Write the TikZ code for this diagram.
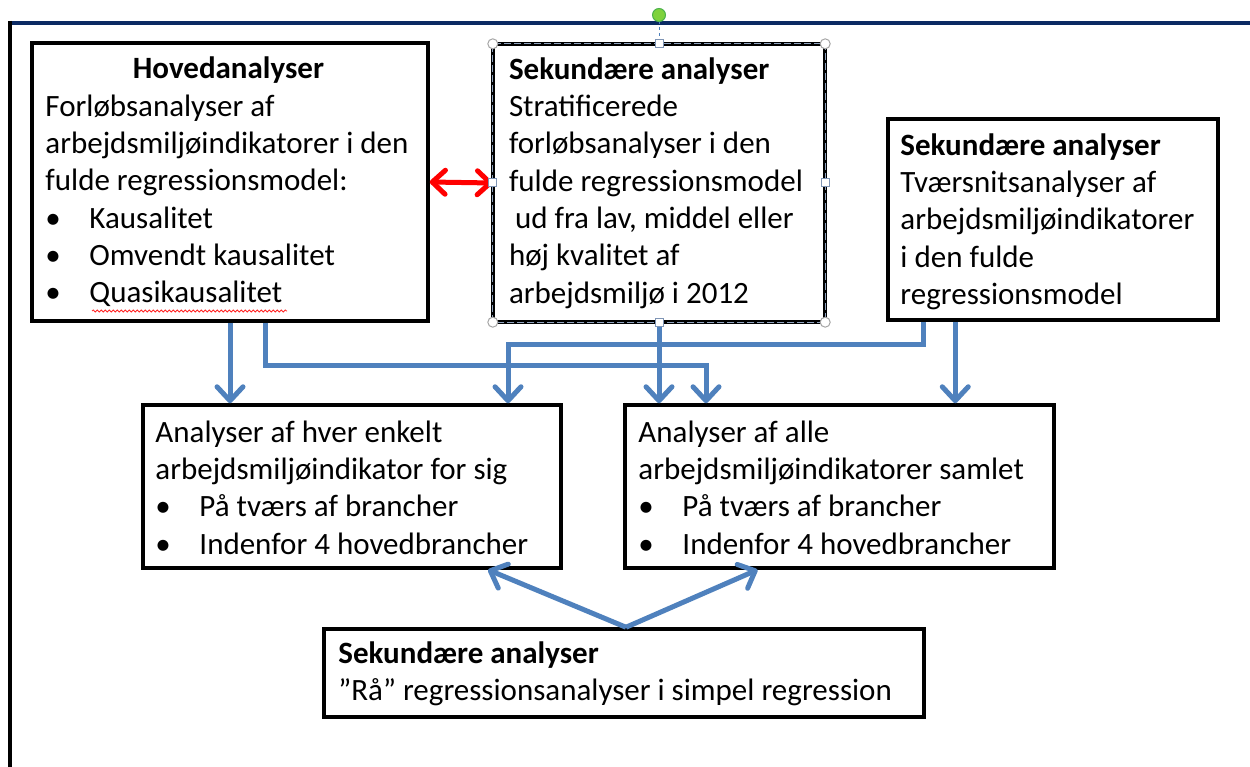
\documentclass[tikz,border=0pt]{standalone}
\usepackage{fontspec}
\setmainfont{Carlito}
\usetikzlibrary{arrows.meta,calc,decorations.pathmorphing}
\definecolor{conn}{HTML}{4F81BD}
\definecolor{navy}{HTML}{0B2A63}
\definecolor{selgray}{HTML}{8EA2BE}
\definecolor{handle}{HTML}{7F95B5}
\definecolor{rotgreen}{HTML}{7ED23C}
\begin{document}
\begin{tikzpicture}[x=1pt,y=-1pt,
  boxshape/.style={draw, line width=3.5pt, inner sep=0pt},
  plainshape/.style={draw=none, inner sep=0pt},
  txt/.style={anchor=west, align=left, inner sep=0pt, font=\fontsize{31}{37.3}\selectfont},
  flow/.style={draw=conn, line width=5pt, -{Straight Barb[length=14pt,width=26pt,round]}},
  redflow/.style={draw=red, line width=5pt, {Straight Barb[length=13pt,width=24pt,round]}-{Straight Barb[length=13pt,width=24pt,round]}},
  corner/.style={circle, draw=gray!70, fill=white, line width=1pt, minimum size=10pt, inner sep=0pt},
  mid/.style={rectangle, draw=handle, fill=white, line width=1pt, minimum size=8pt, inner sep=0pt}
]
\useasboundingbox (0,0) rectangle (1250,767);
\newcommand{\bul}{\makebox[44pt][l]{•}}

% frame
\draw[navy, line width=4pt] (10,23) -- (1250,23);
\draw[black, line width=4pt] (10,21) -- (10,767);

% boxes
\node[boxshape, minimum width=396pt, minimum height=278pt] (A) at (230,182) {};
\node[plainshape, minimum width=332pt, minimum height=278pt] (B) at (659,183) {};
\node[boxshape, minimum width=330pt, minimum height=201pt] (C) at (1053,219.5) {};
\node[boxshape, minimum width=418pt, minimum height=163pt] (D) at (352,486.5) {};
\node[boxshape, minimum width=429pt, minimum height=163pt] (E) at (839.5,486.5) {};
\node[boxshape, minimum width=600pt, minimum height=88pt] (F) at (624,673) {};

% box B selected-style border
\draw[black, line width=3.5pt] (B.south west) rectangle (B.north east);
\draw[selgray, line width=1.2pt, dash pattern=on 7pt off 3pt] (B.south west) rectangle (B.north east);

% texts
\node[txt] (At) at ($(A.west)+(15,0)$) {\makebox[366pt]{\bfseries Hovedanalyser}\\
Forløbsanalyser af\\
arbejdsmiljøindikatorer i den\\
fulde regressionsmodel:\\
\bul Kausalitet\\
\bul Omvendt kausalitet\\
\bul Quasikausalitet};
\node[txt] (Bt) at ($(B.west)+(16,0)$) {\textbf{Sekundære analyser}\\
Stratificerede\\
forløbsanalyser i den\\
fulde regressionsmodel\\
\hspace*{6pt}ud fra lav, middel eller\\
høj kvalitet af\\
arbejdsmiljø i 2012};
\node[txt] (Ct) at ($(C.west)+(14,2)$) {\textbf{Sekundære analyser}\\
Tværsnitsanalyser af\\
arbejdsmiljøindikatorer\\
i den fulde\\
regressionsmodel};
\node[txt] (Dt) at ($(D.west)+(14,1)$) {Analyser af hver enkelt\\
arbejdsmiljøindikator for sig\\
\bul På tværs af brancher\\
\bul Indenfor 4 hovedbrancher};
\node[txt] (Et) at ($(E.west)+(15,1)$) {Analyser af alle\\
arbejdsmiljøindikatorer samlet\\
\bul På tværs af brancher\\
\bul Indenfor 4 hovedbrancher};
\node[txt] (Ft) at ($(F.west)+(16,1)$) {\textbf{Sekundære analyser}\\
”Rå” regressionsanalyser i simpel regression};

% spell-check underline
\draw[red!85, line width=0.8pt, decorate, decoration={snake, amplitude=1pt, segment length=4pt}] (92,311) -- (287,311);

% connectors
\coordinate (j2) at (706,365);
\coordinate (j3) at (508,344);
\coordinate (c4) at ($(C.south west)+(37,0)$);
\coordinate (c5) at ($(C.south west)+(69,0)$);
\coordinate (a2) at ($(A.south)+(35,0)$);
\draw[flow] (A.south) -- (A.south |- D.north);
\draw[flow] (a2) |- (j2) -- (j2 |- E.north);
\draw[flow] (c4) |- (j3) -- (j3 |- D.north);
\draw[flow] (B.south) -- (B.south |- E.north);
\draw[flow] (c5) -- (c5 |- E.north);
\coordinate (fx) at ($(F.north)+(2,0)$);
\coordinate (dt) at ($(D.south)+(136,0)$);
\coordinate (et) at ($(E.south)+(-82,0)$);
\draw[flow] (fx) -- (dt);
\draw[flow] (fx) -- (et);
\draw[redflow] (A.east) -- (B.west);

% selection handles on box B
\draw[conn, line width=1pt, dash pattern=on 3pt off 3pt] (659,21) -- (B.north);
\node[circle, draw=gray!60!green, fill=rotgreen, line width=1pt, minimum size=13pt, inner sep=0pt] (rot) at (659,15) {};
\node[corner] (h1) at (B.north west) {};
\node[corner] (h2) at (B.north east) {};
\node[corner] (h3) at (B.south west) {};
\node[corner] (h4) at (B.south east) {};
\node[mid] (h5) at (B.north) {};
\node[mid] (h6) at (B.south) {};
\node[mid] (h7) at (B.west) {};
\node[mid] (h8) at (B.east) {};
\end{tikzpicture}
\end{document}
